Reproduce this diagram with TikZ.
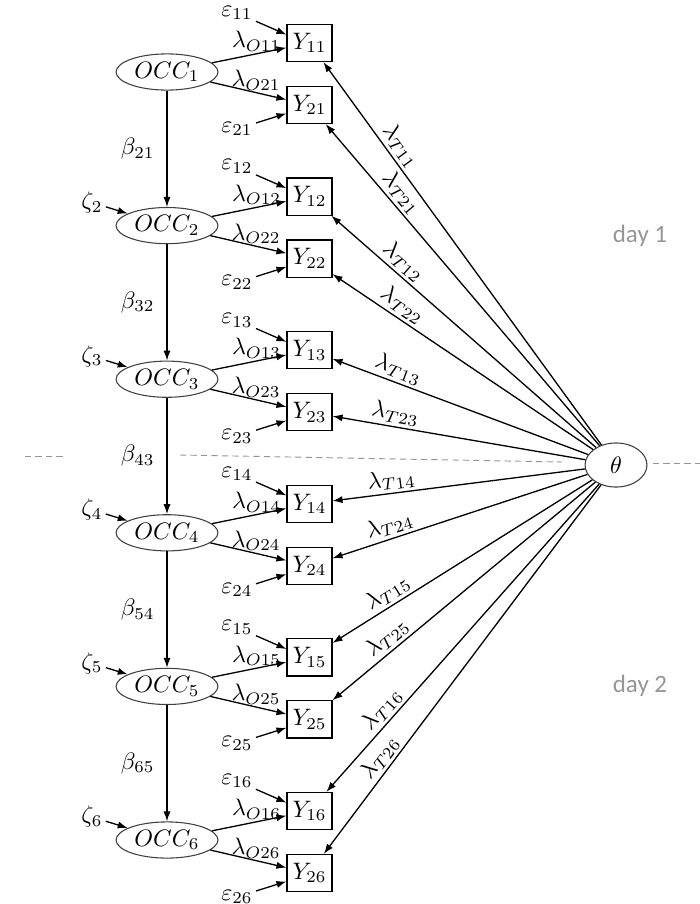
\documentclass[tikz,border=0pt]{standalone}
\usepackage{fontspec}
\newfontfamily\daysans{Carlito}
\usetikzlibrary{arrows.meta,shapes.geometric}
\definecolor{daygray}{RGB}{150,150,150}
\begin{document}
\begin{tikzpicture}[x=0.42pt,y=-0.42pt,
  obs/.style={draw, line width=0.45pt, rectangle, minimum width=18.9pt, minimum height=15.6pt, inner sep=0.5pt},
  lat/.style={draw=black!75, line width=0.45pt, ellipse, minimum width=42.8pt, minimum height=15.2pt, inner sep=0pt},
  thetanode/.style={draw=black!75, line width=0.45pt, ellipse, minimum width=26pt, minimum height=18.5pt, inner sep=0pt},
  arr/.style={-{Latex[length=4.2pt,width=3pt]}, line width=0.55pt},
  lab/.style={inner sep=1.2pt},
  divider/.style={draw=daygray, dashed, dash pattern=on 2.6pt off 1.8pt, line width=0.4pt},
  daylab/.style={text=daygray, font=\daysans\fontsize{10.5}{12}\selectfont},
]
\useasboundingbox (0,0) rectangle (700,904);

% divider
\draw[divider] (25,456) -- (66,456);
\draw[divider] (180,455) -- (562,462);
\draw[divider] (653,463) -- (700,463);

\node[daylab] (day1) at (640,236) {day 1};
\node[daylab] (day2) at (640,686) {day 2};

\node[thetanode] (theta) at (616,465) {$\theta$};

\foreach \k in {1,...,6}{
  \pgfmathsetmacro\yc{72+(\k-1)*153.6}
  \node[lat] (O\k) at (167,\yc) {$OCC_{\k}$};
  \node[obs] (Ya\k) at (309.5,\yc-29) {$Y_{1\k}$};
  \node[obs] (Yb\k) at (309.5,\yc+33) {$Y_{2\k}$};
  \node[lab] (ea\k) at (237,\yc-59) {$\varepsilon_{1\k}$};
  \node[lab] (eb\k) at (237,\yc+57) {$\varepsilon_{2\k}$};
  \draw[arr] (ea\k) -- (Ya\k.160);
  \draw[arr] (eb\k) -- (Yb\k.200);
  \draw[arr] (O\k) -- node[above, pos=0.6, inner sep=0.8pt] {$\lambda_{O1\k}$} (Ya\k);
  \draw[arr] (O\k) -- node[above, pos=0.6, inner sep=0.8pt] {$\lambda_{O2\k}$} (Yb\k);
  \draw[arr] (theta) -- node[sloped, above, pos=0.76, inner sep=1.2pt] {$\lambda_{T1\k}$} (Ya\k);
  \draw[arr] (theta) -- node[sloped, above, pos=0.76, inner sep=1.2pt] {$\lambda_{T2\k}$} (Yb\k);
}

\foreach \k in {2,...,6}{
  \pgfmathsetmacro\yc{72+(\k-1)*153.6}
  \node[lab] (z\k) at (92,\yc-23) {$\zeta_{\k}$};
  \draw[arr] (z\k) -- (O\k);
}

\foreach \k [evaluate=\k as \p using int(\k-1)] in {2,...,6}{
  \draw[arr] (O\p) -- node[left, inner sep=5pt] {$\beta_{\k\p}$} (O\k);
}
\end{tikzpicture}
\end{document}
